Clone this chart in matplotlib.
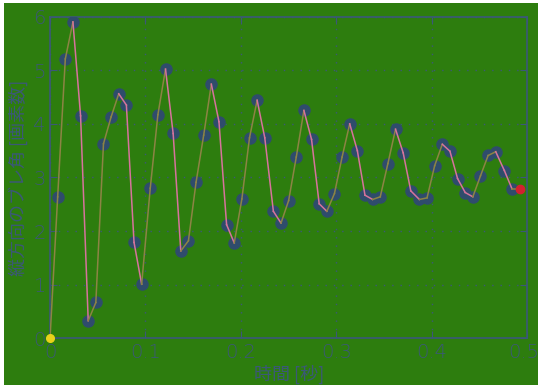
import matplotlib
matplotlib.use("Agg")
import matplotlib.pyplot as plt
from matplotlib.patches import Rectangle
from matplotlib.transforms import ScaledTranslation

plt.rcParams['font.family'] = ['Noto Sans CJK JP', 'DejaVu Sans']

# time [s] and vertical shake angle [pixels]
t = [0.000, 0.008, 0.016, 0.024, 0.032, 0.040, 0.048, 0.056, 0.064, 0.072,
     0.080, 0.088, 0.096, 0.105, 0.113, 0.121, 0.129, 0.137, 0.145, 0.153,
     0.161, 0.169, 0.177, 0.185, 0.193, 0.201, 0.209, 0.217, 0.225, 0.234,
     0.242, 0.250, 0.258, 0.266, 0.274, 0.282, 0.290, 0.298, 0.306, 0.314,
     0.322, 0.330, 0.338, 0.346, 0.354, 0.362, 0.370, 0.378, 0.387, 0.395,
     0.403, 0.411, 0.419, 0.427, 0.435, 0.443, 0.451, 0.459, 0.467, 0.476,
     0.484, 0.492]
angle = [0.00, 2.64, 5.21, 5.90, 4.15, 0.33, 0.67, 3.63, 4.13, 4.56,
         4.35, 1.79, 1.01, 2.80, 4.17, 5.02, 3.82, 1.63, 1.82, 2.91,
         3.79, 4.74, 4.04, 2.12, 1.78, 2.60, 3.74, 4.44, 3.74, 2.37,
         2.15, 2.57, 3.38, 4.25, 3.71, 2.51, 2.37, 2.70, 3.38, 4.00,
         3.50, 2.67, 2.59, 2.64, 3.26, 3.90, 3.46, 2.75, 2.59, 2.62,
         3.22, 3.62, 3.49, 2.98, 2.72, 2.64, 3.03, 3.41, 3.48, 3.13,
         2.79, 2.79]

bg = '#2d7d0e'
fg = '#3b5878'
pink = '#d6739c'
olive = '#8c8444'

fig = plt.figure(figsize=(5.38, 3.85), dpi=100, facecolor='white')
fig.patches.append(Rectangle((4 / 538, 0), 1, 1 - 3 / 385, transform=fig.transFigure,
                             facecolor=bg, edgecolor='none', zorder=-10))
ax = fig.add_axes([0.093, 0.121, 0.887, 0.836])
ax.set_facecolor(bg)

ax.plot(t[1:-1], angle[1:-1], 'o', color='#2f4c6c', ms=8, zorder=3)
for i in range(len(t) - 1):
    c = olive if angle[i + 1] >= angle[i] else pink
    ax.plot(t[i:i + 2], angle[i:i + 2], color=c, lw=1.1, zorder=4)
ax.plot(t[0], angle[0], 'o', color='#e8d21a', ms=5.5, zorder=5, clip_on=False)
ax.plot(t[-1], angle[-1], 'o', color='#d42030', ms=6, zorder=5)

ax.set_xlim(0, 0.5)
ax.set_ylim(0, 6)
ax.set_xticks([0, 0.1, 0.2, 0.3, 0.4, 0.5])
ax.set_xticklabels(['0', '0.1', '0.2', '0.3', '0.4', '0.5'])
ax.set_yticks(range(7))
ax.grid(True, color=fg, linestyle=(0, (1, 5)), linewidth=1.0)
ax.tick_params(direction='in', colors=fg, labelsize=14, top=True, right=True,
               length=5, pad=3)
for lab in ax.get_xticklabels() + ax.get_yticklabels():
    lab.set_fontfamily('DejaVu Sans')
    lab.set_fontweight('light')
# keep the last x label inside the image
last = ax.get_xticklabels()[-1]
last.set_transform(last.get_transform() + ScaledTranslation(-4 / 100, 0, fig.dpi_scale_trans))
for s in ax.spines.values():
    s.set_color(fg)
    s.set_linewidth(1.2)

ax.set_xlabel('時間 [秒]', color=fg, fontsize=13, labelpad=2)
ax.set_ylabel('縦方向のブレ角 [画素数]', color=fg, fontsize=13, labelpad=4)

fig.savefig('out.png', dpi=100, facecolor=fig.get_facecolor())
